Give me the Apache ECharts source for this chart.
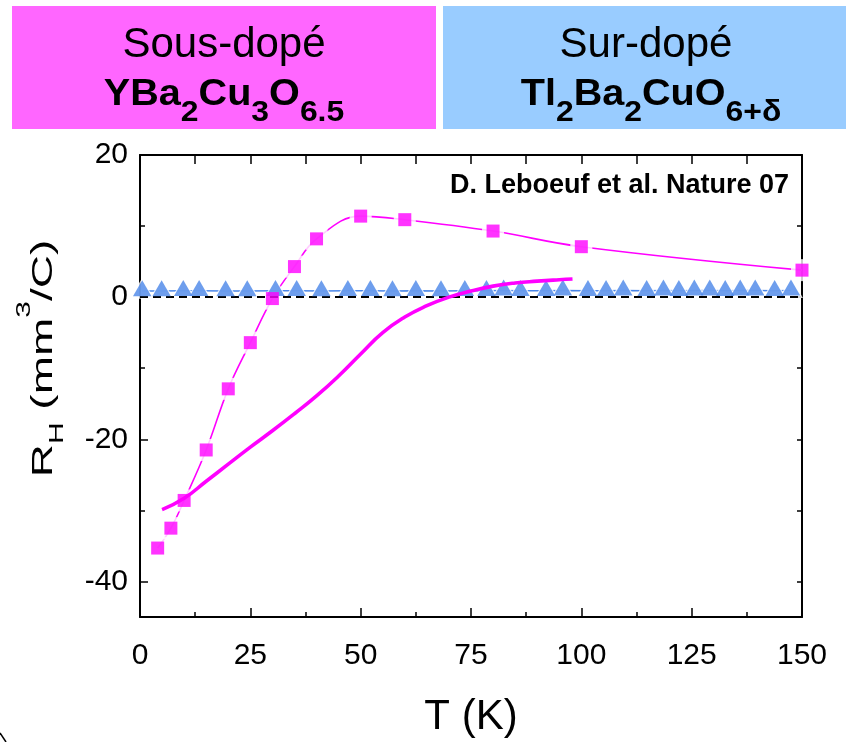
<!DOCTYPE html>
<html>
<head>
<meta charset="utf-8">
<script src="https://cdn.jsdelivr.net/npm/echarts@6/dist/echarts.min.js"></script>
<style>
  html, body { margin: 0; padding: 0; background: #fff; }
  #chart { width: 846px; height: 742px; }
</style>
</head>
<body>
<div id="chart"></div>
<script>
// Hall coefficient R_H versus temperature

// YBa2Cu3O6.5 (under-doped): measured points
const T_YBCO = [4, 7, 10, 15, 20, 25, 30, 35, 40, 50, 60, 80, 100, 150];
const RH_YBCO = [-35.3, -32.5, -28.6, -21.5, -12.9, -6.4, -0.2, 4.3, 8.2, 11.4, 10.9, 9.3, 7.1, 3.8];

// YBa2Cu3O6.5: high-field curve (thick solid line)
const T_HF = [5, 10, 15, 20, 25, 30, 35, 40, 45, 50, 55, 60, 65, 70, 75, 80, 85, 90, 95, 98];
const RH_HF = [-29.9, -28.3, -25.9, -23.5, -21.1, -18.8, -16.4, -13.9, -11.1, -8.0, -5.0, -2.8, -1.2, 0.0, 0.85, 1.55, 2.0, 2.25, 2.45, 2.55];

// Tl2Ba2CuO6+d (over-doped): measured points
const T_TL = [0.5, 4.9, 9.8, 13.4, 19.4, 24.3, 30.7, 35.5, 41.1, 47.1, 52.2, 57.2, 62.5, 68.2, 73.6,
              78.5, 82.4, 86.2, 92.0, 95.8, 101.5, 105.6, 109.5, 114.8, 118.6, 122.1, 125.6, 129.1,
              132.6, 136.0, 139.4, 143.8, 147.5];
const RH_TL = [0.85, 0.85, 0.9, 0.9, 0.85, 0.85, 0.9, 0.9, 0.85, 0.9, 0.9, 0.85, 0.9, 0.85, 0.9,
               0.9, 0.95, 0.9, 0.9, 0.95, 0.9, 0.9, 0.95, 0.9, 0.95, 0.9, 0.95, 0.95,
               0.9, 0.95, 0.95, 0.9, 0.95];

// Axis ticks
const X_MIN = 0, X_MAX = 150, X_STEP = 25;
const Y_MIN = -45, Y_MAX = 20;
const Y_LABELS = [-40, -20, 0, 20];
const Y_MINOR = [-30, -10, 10];
const Y_RIGHT = [-40, -30, -20, -10, 0, 10, 20];

const FONT = '"Liberation Sans", Arial, sans-serif';
const MAGENTA = '#ff00ff';
const BLUE = '#4a86e8';
const AXIS_LINE = { color: '#000', width: 2 };
const TICK_LINE = { color: '#000', width: 1.5 };

const pairs = (xs, ys) => xs.map((x, i) => [x, ys[i]]);
const ybco = pairs(T_YBCO, RH_YBCO);
const highField = pairs(T_HF, RH_HF);
const tl = pairs(T_TL, RH_TL);

const chart = echarts.init(document.getElementById('chart'), null, { renderer: 'canvas' });

const formulaRich = {
  b: { fontFamily: FONT, fontSize: 36, fontWeight: 'bold', color: '#000', lineHeight: 36, verticalAlign: 'top' },
  s: { fontFamily: FONT, fontSize: 29, fontWeight: 'bold', color: '#000', lineHeight: 29, verticalAlign: 'top', padding: [21, 0, 0, 0] }
};

const option = {
  animation: false,
  backgroundColor: '#fff',
  grid: { left: 140, right: 44, top: 155, bottom: 125, outerBoundsMode: 'none' },
  xAxis: [
    {
      type: 'value', position: 'bottom', min: X_MIN, max: X_MAX, interval: X_STEP,
      axisLine: { show: true, onZero: false, lineStyle: AXIS_LINE },
      axisTick: { show: true, inside: true, length: 9, lineStyle: TICK_LINE },
      minorTick: { show: true, splitNumber: 2, length: 5, lineStyle: TICK_LINE },
      axisLabel: { fontFamily: FONT, fontSize: 30, color: '#000', margin: 24 },
      splitLine: { show: false },
      name: 'T (K)', nameLocation: 'middle', nameGap: 79,
      nameTextStyle: { fontFamily: FONT, fontSize: 42, color: '#000' }
    },
    {
      type: 'value', position: 'top', min: X_MIN, max: X_MAX, interval: X_STEP / 2,
      axisLine: { show: true, onZero: false, lineStyle: AXIS_LINE },
      axisTick: { show: true, inside: true, length: 9, lineStyle: TICK_LINE },
      axisLabel: { show: false },
      splitLine: { show: false }
    }
  ],
  yAxis: [
    {
      type: 'value', position: 'left', min: Y_MIN, max: Y_MAX,
      axisLine: { show: true, onZero: false, lineStyle: AXIS_LINE },
      axisTick: { show: true, inside: true, length: 8, lineStyle: TICK_LINE, customValues: Y_LABELS },
      axisLabel: { fontFamily: FONT, fontSize: 30, color: '#000', margin: 12, customValues: Y_LABELS },
      splitLine: { show: false }
    },
    {
      type: 'value', position: 'left', min: Y_MIN, max: Y_MAX,
      axisLine: { show: false },
      axisTick: { show: true, inside: true, length: 5, lineStyle: TICK_LINE, customValues: Y_MINOR },
      axisLabel: { show: false },
      splitLine: { show: false }
    },
    {
      type: 'value', position: 'right', min: Y_MIN, max: Y_MAX,
      axisLine: { show: true, onZero: false, lineStyle: AXIS_LINE },
      axisTick: { show: true, inside: true, length: 5, lineStyle: TICK_LINE, customValues: Y_RIGHT },
      axisLabel: { show: false },
      splitLine: { show: false }
    }
  ],
  series: [
    // guide line through the YBCO points
    {
      type: 'line', data: ybco, smooth: 0.4, symbol: 'none', silent: true, z: 1,
      lineStyle: { color: MAGENTA, width: 1.6 }
    },
    // white halo leaving a gap between the guide line and each square
    {
      type: 'scatter', data: ybco, symbol: 'rect', symbolSize: 22, silent: true, z: 2,
      itemStyle: { color: '#fff' }
    },
    // guide line through the Tl points
    {
      type: 'line', data: tl, symbol: 'none', silent: true, z: 3,
      lineStyle: { color: BLUE, width: 1.5 }
    },
    {
      type: 'scatter', data: tl, symbol: 'triangle', symbolSize: [24, 21], symbolOffset: [0, -2.8],
      silent: true, z: 4, itemStyle: { color: '#fff' }
    },
    // Tl2Ba2CuO6+d triangles, with the R_H = 0 reference line
    {
      type: 'scatter', data: tl, symbol: 'triangle', symbolSize: [18.5, 16], symbolOffset: [0, -2.8],
      z: 6, itemStyle: { color: BLUE },
      markLine: {
        silent: true, symbol: ['none', 'none'], label: { show: false },
        lineStyle: { color: '#000', width: 2, type: [8, 5] },
        data: [{ yAxis: 0 }]
      }
    },
    // high-field curve
    {
      type: 'line', data: highField, smooth: true, symbol: 'none', silent: true, z: 7,
      lineStyle: { color: MAGENTA, width: 3.6 }
    },
    // YBCO squares
    {
      type: 'scatter', data: ybco, symbol: 'rect', symbolSize: 13, z: 8,
      itemStyle: { color: MAGENTA }
    }
  ],
  graphic: [
    { type: 'rect', shape: { x: 12, y: 6, width: 424, height: 123 }, style: { fill: '#ff66ff' }, silent: true },
    { type: 'rect', shape: { x: 443, y: 6, width: 403, height: 123 }, style: { fill: '#99ccff' }, silent: true },
    {
      type: 'text', x: 224, y: 45, silent: true,
      style: { text: 'Sous-dopé', font: '42px ' + FONT, fill: '#000', textAlign: 'center', textVerticalAlign: 'middle', align: 'center', verticalAlign: 'middle' }
    },
    {
      type: 'text', x: 646, y: 45, silent: true,
      style: { text: 'Sur-dopé', font: '42px ' + FONT, fill: '#000', textAlign: 'center', textVerticalAlign: 'middle', align: 'center', verticalAlign: 'middle' }
    },
    {
      type: 'text', x: 224, y: 77, scaleX: 1.1, silent: true,
      style: {
        text: '{b|YBa}{s|2}{b|Cu}{s|3}{b|O}{s|6.5}', rich: formulaRich,
        textAlign: 'center', textVerticalAlign: 'top', align: 'center', verticalAlign: 'top'
      }
    },
    {
      type: 'text', x: 651, y: 77, scaleX: 1.1, silent: true,
      style: {
        text: '{b|Tl}{s|2}{b|Ba}{s|2}{b|CuO}{s|6+δ}', rich: formulaRich,
        textAlign: 'center', textVerticalAlign: 'top', align: 'center', verticalAlign: 'top'
      }
    },
    {
      type: 'text', x: 789, y: 186, silent: true,
      style: { text: 'D. Leboeuf et al. Nature 07', font: 'bold 27px ' + FONT, fill: '#000', textAlign: 'right', textVerticalAlign: 'middle', align: 'right', verticalAlign: 'middle' }
    },
    // y-axis title, rotated
    {
      type: 'text', x: 29.8, y: 358.5, rotation: Math.PI / 2, scaleY: 0.66, silent: true,
      style: {
        text: '{n|R}{s|H}{n| (mm}{p|3}{n|/C)}',
        textAlign: 'center', textVerticalAlign: 'middle', align: 'center', verticalAlign: 'middle',
        rich: {
          n: { fontFamily: FONT, fontSize: 46, color: '#000', lineHeight: 46, verticalAlign: 'top', padding: [21.5, 0, 0, 0] },
          s: { fontFamily: FONT, fontSize: 30, color: '#000', lineHeight: 30, verticalAlign: 'top', padding: [50, 0, 0, 0] },
          p: { fontFamily: FONT, fontSize: 30, color: '#000', lineHeight: 30, verticalAlign: 'top' }
        }
      }
    },
    { type: 'line', shape: { x1: 0, y1: 733, x2: 6, y2: 742 }, style: { stroke: '#000', lineWidth: 1.5 }, silent: true }
  ]
};

chart.setOption(option);
</script>
</body>
</html>
